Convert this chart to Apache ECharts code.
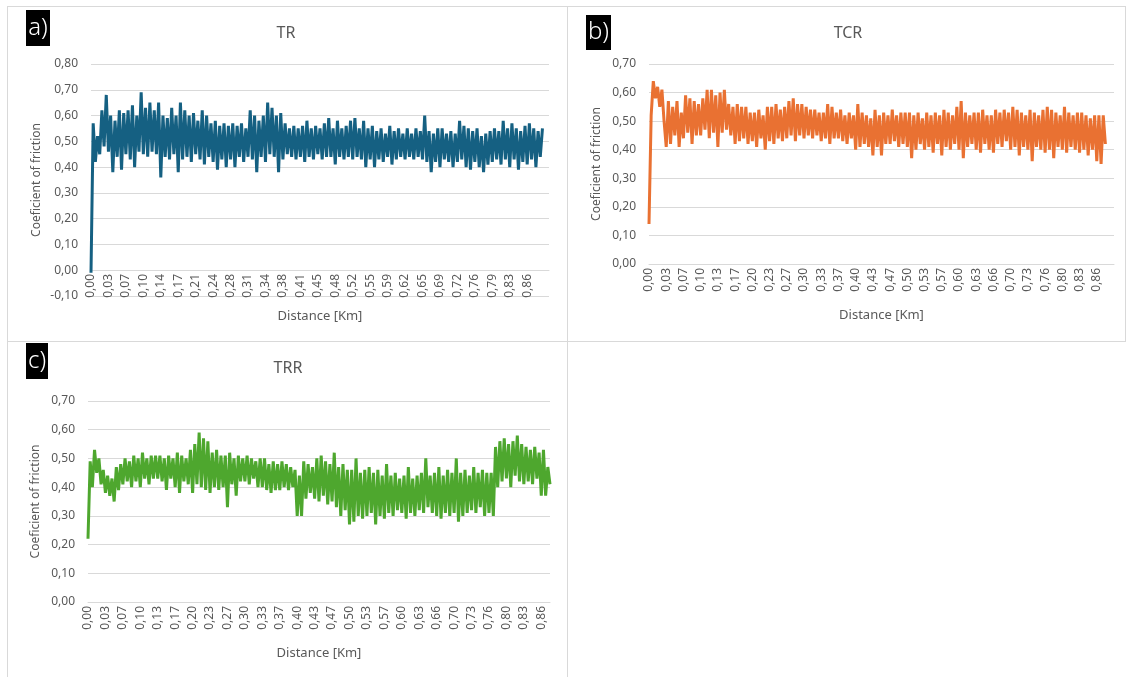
<!DOCTYPE html>
<html>
<head>
<meta charset="utf-8">
<script src="https://cdn.jsdelivr.net/npm/echarts@6/dist/echarts.min.js"></script>
<style>
  html, body { margin: 0; padding: 0; background: #fff; }
  #chart { position: absolute; left: 0; top: 0; width: 1126px; height: 677px; }
  .rule { position: absolute; background: #d9d9d9; }
</style>
</head>
<body>
<div class="rule" style="left:7px;top:6px;width:1119px;height:1px"></div>
<div class="rule" style="left:7px;top:6px;width:1px;height:671px"></div>
<div class="rule" style="left:567px;top:6px;width:1px;height:671px"></div>
<div class="rule" style="left:1125px;top:6px;width:1px;height:335px"></div>
<div class="rule" style="left:7px;top:341px;width:1119px;height:1px"></div>
<div id="chart"></div>
<script>
// distance tick labels (one every 8 samples)
const trTicks = ['0,00','0,03','0,07','0,10','0,14','0,17','0,21','0,24','0,28','0,31','0,34','0,38','0,41','0,45','0,48','0,52','0,55','0,59','0,62','0,65','0,69','0,72','0,76','0,79','0,83','0,86'];
const tcrTicks = ['0,00','0,03','0,07','0,10','0,13','0,17','0,20','0,23','0,27','0,30','0,33','0,37','0,40','0,43','0,47','0,50','0,53','0,57','0,60','0,63','0,66','0,70','0,73','0,76','0,80','0,83','0,86'];
const trrTicks = tcrTicks.slice();
const samplesPerTick = 8;

// coefficient of friction
const trValues = [
  -0.01,0.57,0.42,0.52,0.45,0.62,0.48,0.68, 0.46,0.60,0.38,0.58,0.44,0.62,0.39,0.61,
  0.45,0.62,0.43,0.64,0.40,0.60,0.46,0.69, 0.45,0.63,0.44,0.65,0.46,0.62,0.45,0.65,
  0.36,0.60,0.44,0.59,0.43,0.63,0.45,0.60, 0.38,0.65,0.43,0.62,0.44,0.60,0.42,0.61,
  0.45,0.58,0.43,0.62,0.41,0.60,0.44,0.57, 0.42,0.58,0.39,0.56,0.43,0.57,0.40,0.56,
  0.43,0.57,0.40,0.56,0.44,0.57,0.42,0.55, 0.44,0.62,0.43,0.60,0.38,0.58,0.44,0.60,
  0.42,0.65,0.45,0.63,0.44,0.60,0.38,0.61, 0.43,0.57,0.45,0.55,0.44,0.56,0.43,0.55,
  0.44,0.56,0.42,0.58,0.44,0.55,0.43,0.56, 0.45,0.55,0.43,0.57,0.44,0.59,0.44,0.55,
  0.41,0.58,0.44,0.55,0.43,0.56,0.44,0.58, 0.43,0.59,0.44,0.55,0.43,0.58,0.40,0.55,
  0.43,0.56,0.40,0.54,0.43,0.55,0.42,0.53, 0.44,0.56,0.41,0.54,0.43,0.55,0.44,0.53,
  0.43,0.55,0.44,0.53,0.43,0.55,0.44,0.54, 0.43,0.60,0.42,0.54,0.38,0.53,0.42,0.55,
  0.40,0.55,0.43,0.53,0.42,0.54,0.40,0.53, 0.42,0.58,0.43,0.56,0.40,0.55,0.39,0.54,
  0.42,0.55,0.40,0.52,0.38,0.53,0.41,0.54, 0.42,0.55,0.43,0.54,0.41,0.58,0.43,0.55,
  0.40,0.57,0.43,0.55,0.39,0.54,0.42,0.56, 0.41,0.57,0.43,0.55,0.40,0.54,0.44,0.55
];
const tcrValues = [
  0.14,0.52,0.64,0.58,0.62,0.55,0.61,0.50, 0.41,0.57,0.42,0.55,0.45,0.57,0.41,0.53,
  0.44,0.59,0.46,0.58,0.42,0.57,0.45,0.56, 0.45,0.58,0.47,0.61,0.44,0.61,0.46,0.59,
  0.41,0.60,0.46,0.61,0.47,0.56,0.45,0.55, 0.42,0.56,0.43,0.55,0.44,0.55,0.42,0.53,
  0.43,0.53,0.41,0.54,0.44,0.52,0.40,0.55, 0.43,0.55,0.42,0.56,0.44,0.54,0.43,0.55,
  0.44,0.57,0.45,0.58,0.43,0.56,0.45,0.56, 0.44,0.55,0.45,0.54,0.44,0.54,0.45,0.53,
  0.43,0.53,0.44,0.56,0.42,0.55,0.44,0.53, 0.44,0.54,0.43,0.52,0.42,0.53,0.44,0.52,
  0.40,0.56,0.41,0.53,0.42,0.52,0.41,0.51, 0.38,0.54,0.41,0.52,0.38,0.53,0.42,0.52,
  0.42,0.54,0.43,0.52,0.41,0.53,0.42,0.53, 0.41,0.53,0.37,0.52,0.40,0.53,0.42,0.51,
  0.40,0.53,0.41,0.52,0.39,0.53,0.42,0.52, 0.38,0.54,0.41,0.53,0.40,0.52,0.42,0.55,
  0.40,0.57,0.37,0.53,0.41,0.52,0.42,0.53, 0.40,0.53,0.39,0.54,0.42,0.52,0.40,0.52,
  0.39,0.54,0.42,0.53,0.41,0.54,0.43,0.53, 0.40,0.55,0.41,0.54,0.38,0.53,0.41,0.52,
  0.40,0.54,0.36,0.53,0.41,0.52,0.40,0.54, 0.39,0.55,0.40,0.54,0.37,0.53,0.41,0.52,
  0.40,0.55,0.39,0.53,0.41,0.52,0.40,0.53, 0.39,0.53,0.40,0.52,0.38,0.51,0.40,0.52,
  0.36,0.52,0.35,0.52,0.42
];
const trrValues = [
  0.22,0.49,0.40,0.53,0.45,0.50,0.41,0.46, 0.38,0.44,0.37,0.43,0.35,0.47,0.39,0.48,
  0.41,0.50,0.42,0.49,0.40,0.51,0.42,0.50, 0.40,0.52,0.43,0.50,0.41,0.51,0.43,0.51,
  0.43,0.51,0.42,0.50,0.39,0.51,0.43,0.50, 0.40,0.52,0.38,0.51,0.42,0.50,0.41,0.53,
  0.38,0.55,0.41,0.59,0.40,0.57,0.39,0.56, 0.38,0.52,0.40,0.53,0.39,0.51,0.40,0.51,
  0.33,0.52,0.41,0.50,0.37,0.51,0.42,0.50, 0.42,0.51,0.41,0.50,0.43,0.49,0.40,0.50,
  0.40,0.50,0.39,0.48,0.38,0.49,0.39,0.48, 0.39,0.49,0.40,0.48,0.39,0.47,0.40,0.46,
  0.30,0.44,0.30,0.49,0.36,0.48,0.38,0.47, 0.36,0.50,0.35,0.51,0.37,0.49,0.34,0.48,
  0.35,0.52,0.33,0.47,0.30,0.48,0.32,0.46, 0.27,0.46,0.28,0.50,0.30,0.45,0.29,0.46,
  0.30,0.47,0.31,0.45,0.27,0.46,0.30,0.44, 0.29,0.48,0.31,0.44,0.30,0.45,0.32,0.43,
  0.31,0.44,0.29,0.47,0.31,0.43,0.30,0.44, 0.32,0.45,0.31,0.50,0.33,0.44,0.31,0.45,
  0.30,0.47,0.29,0.44,0.31,0.46,0.30,0.45, 0.31,0.50,0.28,0.45,0.30,0.46,0.31,0.44,
  0.32,0.47,0.31,0.45,0.33,0.46,0.30,0.45, 0.31,0.45,0.30,0.54,0.40,0.56,0.42,0.57,
  0.43,0.55,0.40,0.56,0.44,0.58,0.42,0.55, 0.41,0.54,0.42,0.53,0.41,0.54,0.43,0.52,
  0.37,0.53,0.37,0.47,0.41
];

const textColor = '#595959';
const gridColor = '#d9d9d9';
const font = '"Noto Sans", sans-serif';

function panel(i, cfg) {
  const cats = Array.from({ length: cfg.count }, (_, k) => String(k));
  return {
    grid: { left: cfg.left, top: cfg.top, width: cfg.width, height: cfg.height, outerBoundsMode: 'none' },
    xAxis: {
      type: 'category', gridIndex: i, data: cats, boundaryGap: false, offset: cfg.offset || 0,
      name: 'Distance [Km]', nameLocation: 'middle', nameGap: cfg.xGap,
      nameTextStyle: { color: textColor, fontSize: 13, fontFamily: font },
      axisLine: { onZero: false, lineStyle: { color: gridColor, width: 1 } },
      axisTick: { show: false },
      axisLabel: {
        interval: samplesPerTick - 1, rotate: 90, margin: 4,
        color: textColor, fontSize: 12, fontFamily: font,
        formatter: (v, idx) => (idx % samplesPerTick === 0 ? cfg.ticks[idx / samplesPerTick] || '' : ''),
      },
      splitLine: { show: false },
    },
    yAxis: {
      type: 'value', gridIndex: i, min: cfg.min, max: cfg.max, interval: 0.1,
      name: 'Coeficient of friction', nameLocation: 'middle', nameGap: cfg.yGap,
      nameTextStyle: { color: textColor, fontSize: 12, fontFamily: font },
      axisLine: { show: false }, axisTick: { show: false },
      axisLabel: { color: textColor, fontSize: 12, fontFamily: font, margin: 13,
        formatter: (v) => v.toFixed(2).replace('.', ',') },
      splitLine: { lineStyle: { color: gridColor, width: 1 } },
    },
    series: {
      type: 'line', xAxisIndex: i, yAxisIndex: i, data: cfg.values,
      showSymbol: false, symbol: 'none', lineStyle: { color: cfg.color, width: 3, join: 'bevel' },
      itemStyle: { color: cfg.color },
    },
  };
}

const panels = [
  // TR has a negative range: the category axis sits on the 0,00 line
  panel(0, { ticks: trTicks, values: trValues, count: 211, left: 91, top: 64, width: 458, height: 232, min: -0.1, max: 0.8, offset: -26, xGap: 40, yGap: 48, color: '#156082' }),
  panel(1, { ticks: tcrTicks, values: tcrValues, count: 217, left: 649, top: 64, width: 465, height: 200, min: 0, max: 0.7, xGap: 45, yGap: 46, color: '#e97132' }),
  panel(2, { ticks: trrTicks, values: trrValues, count: 213, left: 88, top: 401, width: 462, height: 201, min: 0, max: 0.7, xGap: 45, yGap: 46, color: '#4ea72e' }),
];

function tag(x, y, w, h, label) {
  return {
    type: 'group', x, y,
    children: [
      { type: 'rect', shape: { x: 0, y: 0, width: w, height: h }, style: { fill: '#000' } },
      { type: 'text', x: w / 2, y: h / 2, style: { text: label, fill: '#fff', font: '300 24px ' + font, align: 'center', verticalAlign: 'middle' } },
    ],
  };
}
function heading(x, y, label) {
  return { type: 'text', x, y, style: { text: label, fill: textColor, font: '16px ' + font, align: 'center', verticalAlign: 'middle' } };
}

const chart = echarts.init(document.getElementById('chart'), null, { renderer: 'canvas' });
chart.setOption({
  animation: false,
  backgroundColor: 'transparent',
  grid: panels.map((p) => p.grid),
  xAxis: panels.map((p) => p.xAxis),
  yAxis: panels.map((p) => p.yAxis),
  series: panels.map((p) => p.series),
  graphic: [
    heading(286, 33, 'TR'),
    heading(848, 33, 'TCR'),
    heading(288, 368, 'TRR'),
    tag(26, 10, 24, 36, 'a)'),
    tag(586, 15, 25, 35, 'b)'),
    tag(26, 343, 22, 36, 'c)'),
  ],
});
</script>
</body>
</html>
